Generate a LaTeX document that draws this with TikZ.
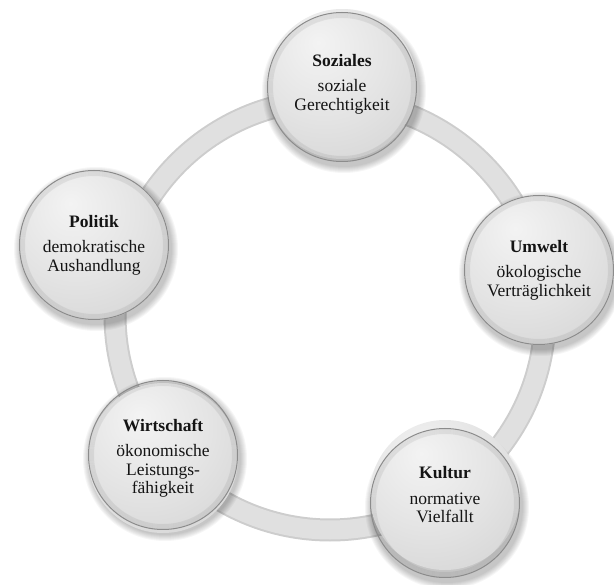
\documentclass[tikz,border=0pt]{standalone}
\usepackage{fontspec}
\setmainfont{Liberation Serif}
\definecolor{cA}{HTML}{F3F3F3}
\definecolor{cB}{HTML}{E4E4E4}
\definecolor{cC}{HTML}{CFCFCF}
\definecolor{cD}{HTML}{B4B4B4}
\definecolor{ringc}{HTML}{E0E0E0}
\definecolor{ringe}{HTML}{CDCDCD}
\pgfdeclareradialshading{orbsh}{\pgfpoint{-8bp}{14bp}}{color(0bp)=(cA); color(22bp)=(cB); color(48bp)=(cC); color(62bp)=(cD); color(90bp)=(cD)}
\tikzset{
  orb/.style={circle, minimum size=150pt, inner sep=0pt, shading=orbsh, align=center,
    font=\fontsize{17.5}{18.5}\selectfont, text=black!92}
}
\newcommand{\orbttl}[1]{{\fontsize{17.5}{18.5}\selectfont\bfseries #1}\\[7pt]}
\begin{document}
\begin{tikzpicture}[x=1pt,y=-1pt]
\useasboundingbox (0,0) rectangle (614,585);
\coordinate (csoz) at (342,87);
\coordinate (cumw) at (539,270);
\coordinate (ckul) at (445,503);
\coordinate (cwir) at (163,455);
\coordinate (cpol) at (94,245);
\coordinate (rc) at (330,315);
% ring
\draw[ringe, line width=23pt] (rc) circle (215pt);
\draw[ringc, line width=19pt] (rc) circle (215pt);
% shadows
\foreach \c in {csoz,cumw,ckul,cwir,cpol}{
  \foreach \k in {0,...,6}{
    \fill[black, opacity=0.035] ([shift={(2,4)}]\c) circle ({76+6-\k});
  }
}
% orbs
\node[orb] (soz) at ([yshift=3]csoz) {\orbttl{Soziales}soziale\\Gerechtigkeit};
\node[orb] (umw) at (cumw) {\orbttl{Umwelt}ökologische\\Verträglichkeit};
\node[orb] (kul) at ([yshift=8]ckul) {\orbttl{Kultur}normative\\Vielfallt};
\node[orb] (wir) at ([yshift=-3]cwir) {\orbttl{Wirtschaft}ökonomische\\Leistungs-\\fähigkeit};
\node[orb] (pol) at (cpol) {\orbttl{Politik}demokratische\\Aushandlung};
% rims
\foreach \c in {csoz,cumw,ckul,cwir,cpol}{
  \draw[black!45, line width=1pt] (\c) circle (74.5);
  \foreach \k in {1,...,5}{
    \draw[black, opacity=0.06, line width=1pt] (\c) circle ({74.5-\k});
  }
}
\end{tikzpicture}
\end{document}
